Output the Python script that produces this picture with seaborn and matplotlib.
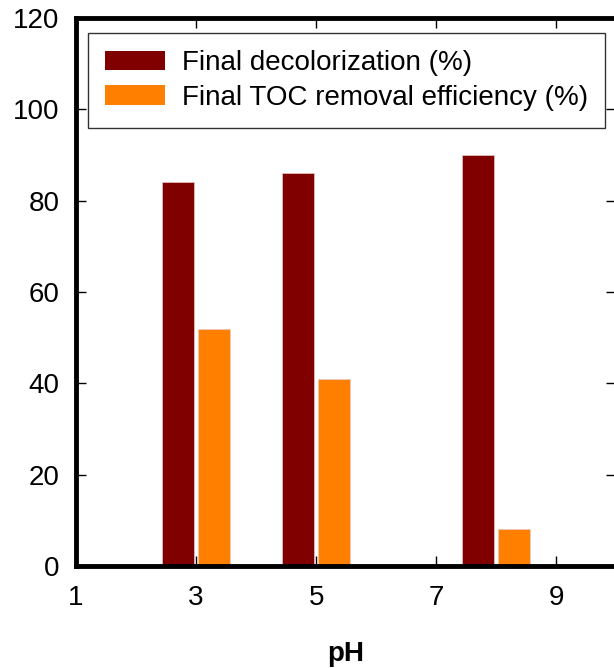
import pandas as pd
import matplotlib
matplotlib.use("Agg")
import matplotlib.pyplot as plt
import seaborn as sns
from matplotlib.patches import Patch

# pH values and the two measured series
ph = [3, 5, 8]
decolor = [84, 86, 90]
toc = [52, 41, 8]
labels = ["Final decolorization (%)", "Final TOC removal efficiency (%)"]
colors = ["#800000", "#ff8000"]

df = pd.DataFrame({
    "pH": ph * 2,
    "value": decolor + toc,
    "series": [labels[0]] * 3 + [labels[1]] * 3,
})

sns.set_style("ticks")
plt.rcParams["font.family"] = ["Liberation Sans", "DejaVu Sans"]
plt.rcParams["text.color"] = "black"
plt.rcParams["xtick.color"] = "black"
plt.rcParams["ytick.color"] = "black"
plt.rcParams["axes.labelcolor"] = "black"

fig = plt.figure(figsize=(6.14, 6.68), dpi=100)
ax = fig.add_axes([0.1238, 0.1527, 0.88, 0.8204])

sns.barplot(data=df, x="pH", y="value", hue="series", native_scale=True,
            palette=colors, saturation=1, width=0.6, gap=0.1,
            edgecolor="#e8c8c8", linewidth=0.5, legend=False, ax=ax)

ax.set_xlim(1, 10)
ax.set_ylim(0, 120)
ax.set_xticks([1, 3, 5, 7, 9])
ax.set_yticks(range(0, 121, 20))
ax.set_xlabel("pH", fontsize=20, fontweight="bold", labelpad=21)
ax.set_ylabel("")
ax.tick_params(direction="in", length=7, width=1, labelsize=20,
               top=True, right=True)
ax.tick_params(axis="x", pad=14)
ax.tick_params(axis="y", pad=12)
for s in ax.spines.values():
    s.set_linewidth(3.5)
    s.set_color("black")
    s.set_visible(True)

handles = [Patch(facecolor=c, edgecolor="none") for c in colors]
leg = ax.legend(handles, labels, loc="upper left", bbox_to_anchor=(0.022, 0.9726),
                borderaxespad=0, fontsize=20, frameon=True, fancybox=False,
                edgecolor="black", handlelength=2.15, handleheight=0.7,
                handletextpad=0.6, borderpad=0.62, labelspacing=0.3)
leg.get_frame().set_linewidth(1)

plt.savefig("out.png", dpi=100)
